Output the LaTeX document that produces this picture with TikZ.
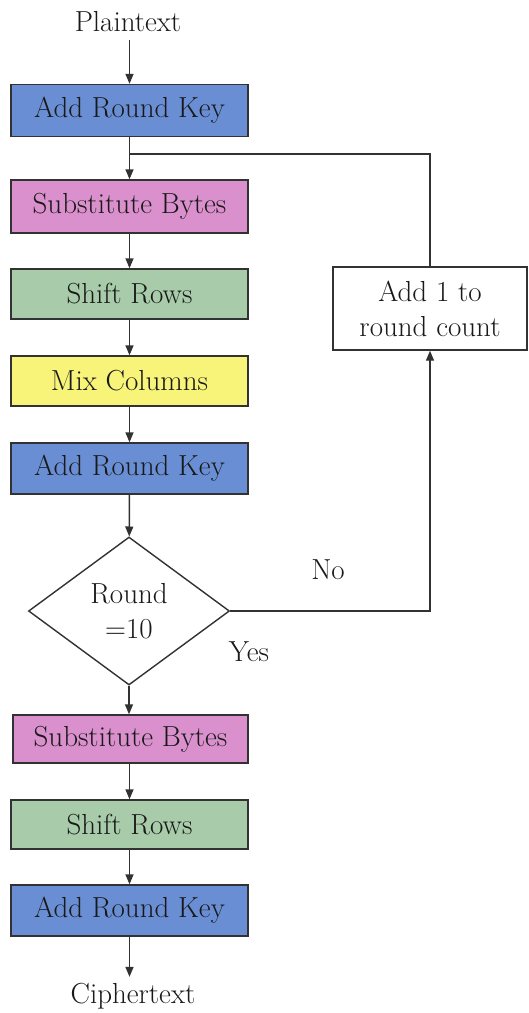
\documentclass[tikz,border=0pt]{standalone}
\usepackage{fontspec}
\usetikzlibrary{shapes.geometric,arrows.meta}
\definecolor{keyblue}{RGB}{106,142,212}
\definecolor{subpink}{RGB}{218,144,204}
\definecolor{shiftgreen}{RGB}{168,204,170}
\definecolor{mixyellow}{RGB}{248,244,122}
\definecolor{linegray}{RGB}{50,50,50}
\definecolor{txt}{RGB}{25,25,25}
\begin{document}
\begin{tikzpicture}[x=1pt,y=-1pt,
  every node/.style={text=txt, font=\fontsize{29}{35}\selectfont},
  proc/.style={draw=linegray, line width=1.4pt, minimum width=237pt, inner sep=0pt, align=center},
  plain/.style={inner sep=0pt, align=center},
  conn/.style={draw=linegray, line width=1.4pt},
  arr/.style={conn, -{Triangle[length=10pt,width=8pt]}}
]
\useasboundingbox (0,0) rectangle (529,1013);
\fill[white] (0,0) rectangle (529,1013);

\node[plain] (pt) at (128,22) {Plaintext};
\node[proc, fill=keyblue, minimum height=52pt] (ark1) at (129.5,110.5) {Add Round Key};
\node[proc, fill=subpink, minimum height=53pt] (sb1) at (129.5,206.5) {Substitute Bytes};
\node[proc, fill=shiftgreen, minimum height=50pt] (sr1) at (129.5,294) {Shift Rows};
\node[proc, fill=mixyellow, minimum height=50pt] (mc) at (129.5,381) {Mix Columns};
\node[proc, fill=keyblue, minimum height=51pt] (ark2) at (129.5,468.5) {Add Round Key};
\node[draw=linegray, line width=1.4pt, fill=white, shape=diamond, shape aspect=1.36,
      minimum width=201pt, minimum height=148pt, inner sep=0pt, align=center] (dia) at (129,611) {Round\\=10};
\node[proc, fill=subpink, minimum width=235pt, minimum height=48pt] (sb2) at (130.5,739) {Substitute Bytes};
\node[proc, fill=shiftgreen, minimum height=49pt] (sr2) at (129.5,824.5) {Shift Rows};
\node[proc, fill=keyblue, minimum height=51pt] (ark3) at (129.5,910.5) {Add Round Key};
\node[plain] (ct) at (133,996) {Ciphertext};
\node[proc, fill=white, minimum width=194pt, minimum height=83pt] (add1) at (430,308.5) {Add 1 to\\round count};

\node[plain] (no) at (328,570) {No};
\node[plain] (yes) at (249,652) {Yes};

\coordinate (j) at (129.5,154);

\draw[arr, shorten <=8pt] (pt.south -| ark1.north) -- (ark1.north);
\draw[arr] (ark1) -- (sb1);
\draw[conn] (j) -| (add1.north);
\draw[arr] (sb1) -- (sr1);
\draw[arr] (sr1) -- (mc);
\draw[arr] (mc) -- (ark2);
\draw[arr] (ark2) -- (dia);
\draw[arr] (dia.east) -| (add1.south);
\draw[arr] (dia.south) -- (dia.south |- sb2.north);
\draw[arr] (sb2.south -| sr2.north) -- (sr2.north);
\draw[arr] (sr2) -- (ark3);
\draw[arr, shorten >=6pt] (ark3.south) -- (ark3.south |- ct.north);
\end{tikzpicture}
\end{document}
